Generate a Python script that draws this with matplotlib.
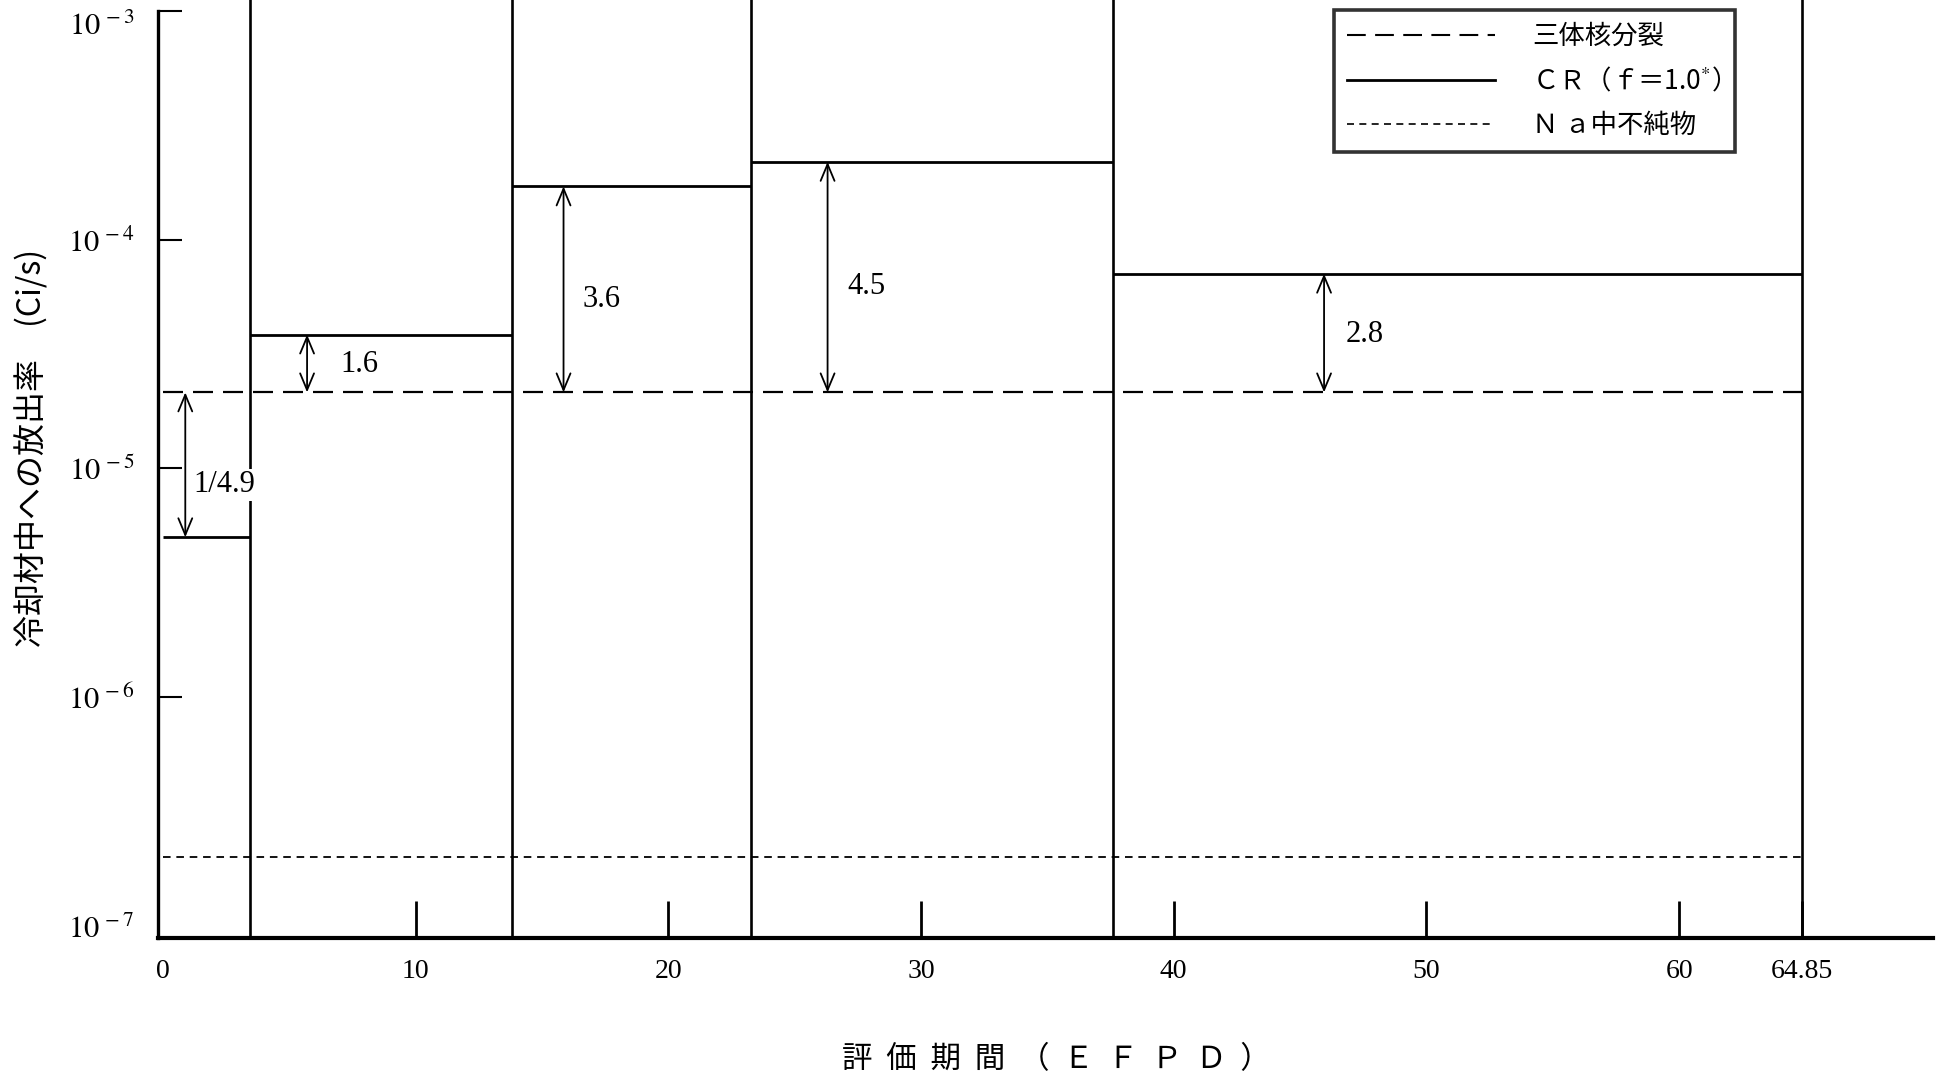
import matplotlib
matplotlib.use('Agg')
import matplotlib.pyplot as plt
from matplotlib.lines import Line2D

# ---- data ----
boundaries = [0, 3.45, 13.8, 23.25, 37.6, 64.85]          # EFPD
cr_values = [5.0e-6, 3.85e-5, 1.71e-4, 2.19e-4, 7.1e-5]   # Ci/s, CR (f=1.0*)
ternary_value = 2.15e-5                                    # 三体核分裂
na_value = 2.0e-7                                          # Na中不純物
ratio_labels = ['1/4.9', '1.6', '3.6', '4.5', '2.8']
ratio_arrow_x = [0.88, 5.7, 15.85, 26.3, 45.95]
ratio_text_x = [1.2, 7.0, 16.6, 27.1, 46.8]
ratio_text_y = [8.5e-6, 2.86e-5, 5.5e-5, 6.25e-5, 3.85e-5]
xtick_values = [0, 10, 20, 30, 40, 50, 60, 64.85]
xtick_labels = ['0', '10', '20', '30', '40', '50', '60', '64.85']
ytick_values = [1e-3, 1e-4, 1e-5, 1e-6, 1e-7]
ytick_labels = [r'$10^{\,-3}$', r'$10^{\,-4}$', r'$10^{\,-5}$', r'$10^{\,-6}$', r'$10^{\,-7}$']
legend_labels = ['三体核分裂', 'ＣＲ（ｆ＝1.0$^{*}$）', 'Ｎ ａ中不純物']
xlabel_text = '評  価  期  間  （  Ｅ  Ｆ  Ｐ  Ｄ  ）'
ylabel_text = '冷却材中への放出率　(Ci/s)'

plt.rcParams['font.family'] = ['Noto Sans CJK JP', 'DejaVu Sans']
plt.rcParams['mathtext.fontset'] = 'stix'

fig = plt.figure(figsize=(19.37, 10.81), dpi=100)
ax = fig.add_axes([158 / 1937, 0.1323, (1933 - 158) / 1937, 0.8677])

ax.set_yscale('log')
ax.set_xlim(-0.2, 70.05)
ax.set_ylim(8.85e-8, 1.117e-3)

dash_long = (9.0, 4.5)
dash_short = (4.2, 3.2)

# CR step levels
ax.hlines(cr_values, boundaries[:-1], boundaries[1:], colors='black', lw=2.0, zorder=3)
# vertical boundary lines spanning full height
for b in boundaries[1:]:
    ax.axvline(b, color='black', lw=1.9, zorder=2)
# ternary fission (dashed)
ax.plot([boundaries[0], boundaries[-1]], [ternary_value, ternary_value], color='black',
        lw=1.6, dashes=dash_long, zorder=3)
# Na impurities (dotted)
ax.plot([boundaries[0], boundaries[-1]], [na_value, na_value], color='black',
        lw=1.3, dashes=dash_short, zorder=3)

# ratio arrows and labels
for lab, xa, xt, yt, cv in zip(ratio_labels, ratio_arrow_x, ratio_text_x, ratio_text_y, cr_values):
    ax.annotate('', xy=(xa, cv), xytext=(xa, ternary_value),
                arrowprops=dict(arrowstyle='<->,head_length=0.6,head_width=0.25',
                                lw=1.3, color='black', shrinkA=0, shrinkB=0,
                                mutation_scale=20), zorder=4)
    ax.text(xt, yt, lab, ha='left', va='center', fontsize=22,
            family=['Liberation Serif', 'DejaVu Serif'], zorder=5,
            bbox=dict(facecolor='white', edgecolor='none', pad=1))

# axes styling
ax.spines['top'].set_visible(False)
ax.spines['right'].set_visible(False)
ax.spines['left'].set_linewidth(2.4)
ax.spines['bottom'].set_linewidth(3.0)
ax.spines['left'].set_bounds(8.85e-8, 1e-3)

ax.set_xticks(xtick_values)
ax.set_xticklabels(xtick_labels, family=['Liberation Serif', 'DejaVu Serif'], fontsize=20)
ax.xaxis.set_minor_locator(matplotlib.ticker.NullLocator())
ax.tick_params(axis='x', direction='in', length=27, width=2.0, pad=15)
ax.xaxis.get_major_ticks()[0].tick1line.set_visible(False)

ax.set_yticks(ytick_values)
ax.set_yticklabels(ytick_labels, fontsize=22)
ax.yaxis.set_minor_locator(matplotlib.ticker.NullLocator())
ax.tick_params(axis='y', direction='in', length=17, width=1.5, pad=17)
ax.yaxis.get_major_ticks()[-1].tick1line.set_visible(False)
ax.get_yticklabels()[0].set_verticalalignment('top')

fig.text(1056 / 1937, 1 - 1060 / 1081, xlabel_text, ha='center', va='center', fontsize=22)
fig.text(32 / 1937, 1 - 647 / 1081, ylabel_text, ha='center', va='bottom', fontsize=23,
         rotation=90)

handles = [Line2D([], [], color='black', lw=1.5, dashes=dash_long),
           Line2D([], [], color='black', lw=2.0),
           Line2D([], [], color='black', lw=1.2, dashes=dash_short)]
leg = ax.legend(handles, legend_labels, loc='upper left',
                bbox_to_anchor=(1334 / 1937, 1 - 10 / 1081), bbox_transform=fig.transFigure,
                fontsize=19, frameon=True, fancybox=False, handlelength=5.6,
                handletextpad=1.4, labelspacing=0.62, borderpad=0.5, borderaxespad=0)
leg.get_frame().set_edgecolor('black')
leg.get_frame().set_linewidth(2.6)

fig.savefig('out.png', dpi=100, facecolor='white')
